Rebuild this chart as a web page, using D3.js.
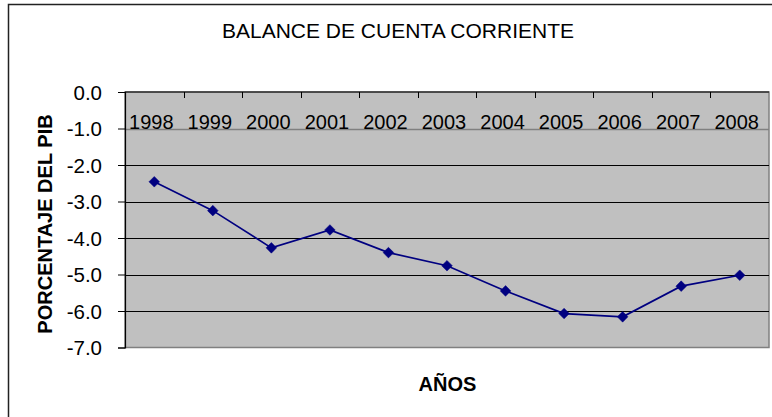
<!DOCTYPE html>
<html>
<head>
<meta charset="utf-8">
<script src="https://cdn.jsdelivr.net/npm/d3@7"></script>
<style>
  html, body { margin: 0; padding: 0; background: #fff; }
  svg { display: block; font-family: "Liberation Sans", Arial, sans-serif; }
</style>
</head>
<body>
<svg id="chart" width="772" height="417"></svg>
<script>
// Current account balance, % of GDP
const years = ["1998","1999","2000","2001","2002","2003","2004","2005","2006","2007","2008"];
const balance = [-2.46, -3.25, -4.27, -3.78, -4.40, -4.76, -5.45, -6.07, -6.16, -5.32, -5.02];
const yTicks = [0, -1, -2, -3, -4, -5, -6, -7];

const titleText = "BALANCE DE CUENTA CORRIENTE";
const yTitle = "PORCENTAJE DEL PIB";
const xTitle = "AÑOS";

const svg = d3.select("#chart");
const W = 772, H = 417;
const plot = { left: 125, right: 769, top: 92, bottom: 347.5 };
const FONT = "Liberation Sans, Arial, sans-serif";

// outer chart frame
svg.append("rect")
  .attr("x", 8.5).attr("y", 4.5)
  .attr("width", W + 10).attr("height", H + 10)
  .attr("fill", "#fff").attr("stroke", "#222").attr("stroke-width", 1.5);

const x = d3.scaleBand().domain(years).range([plot.left, plot.right]).padding(0);
const y = d3.scaleLinear().domain([-7, 0]).range([plot.bottom, plot.top]);

// plot area
svg.append("rect")
  .attr("x", plot.left).attr("y", plot.top)
  .attr("width", plot.right - plot.left).attr("height", plot.bottom - plot.top)
  .attr("fill", "#c0c0c0").attr("stroke", "#808080").attr("stroke-width", 1.5);

// horizontal gridlines
svg.append("g").selectAll("line")
  .data(yTicks.filter(d => d !== 0 && d !== -7))
  .join("line")
  .attr("x1", plot.left).attr("x2", plot.right)
  .attr("y1", d => Math.round(y(d)) + 0.5).attr("y2", d => Math.round(y(d)) + 0.5)
  .attr("stroke", d => d === -1 ? "#808080" : "#000")
  .attr("stroke-width", d => d === -1 ? 1.5 : 1);

// value axis (left)
const yAxis = d3.axisLeft(y).tickValues(yTicks).tickSize(7).tickPadding(16)
  .tickFormat(d => d3.format(".1f")(d).replace("−", "-"));
const gy = svg.append("g").attr("transform", `translate(${plot.left},0)`).call(yAxis);
gy.select(".domain").attr("stroke", "#000").attr("stroke-width", 1.2);
gy.selectAll(".tick line").attr("stroke", "#000");
gy.selectAll(".tick text")
  .attr("font-size", 20.5).attr("fill", "#000")
  .attr("font-family", FONT)
  .attr("dy", "0.36em");

// category axis at zero, tick marks between categories
const bounds = years.map(d => x(d)).concat([plot.right]);
svg.append("line")
  .attr("x1", plot.left).attr("x2", plot.right)
  .attr("y1", y(0)).attr("y2", y(0))
  .attr("stroke", "#000").attr("stroke-width", 1.2);
svg.append("g").selectAll("line")
  .data(bounds.slice(1, -1))
  .join("line")
  .attr("x1", d => Math.round(d) + 0.5).attr("x2", d => Math.round(d) + 0.5)
  .attr("y1", y(0)).attr("y2", y(0) + 6)
  .attr("stroke", "#000").attr("stroke-width", 1);

// category labels
svg.append("g").selectAll("text")
  .data(years)
  .join("text")
  .attr("x", d => x(d) + x.bandwidth() / 2 - 3)
  .attr("y", y(-1))
  .attr("text-anchor", "middle")
  .attr("font-size", 20).attr("fill", "#000")
  .text(d => d);

// series line and markers
const line = d3.line()
  .x((d, i) => x(years[i]) + x.bandwidth() / 2)
  .y(d => y(d));
svg.append("path")
  .datum(balance)
  .attr("d", line)
  .attr("fill", "none").attr("stroke", "#000080").attr("stroke-width", 1.7);

svg.append("g").selectAll("path")
  .data(balance)
  .join("path")
  .attr("transform", (d, i) => `translate(${x(years[i]) + x.bandwidth() / 2},${y(d)})`)
  .attr("d", d3.symbol().type(d3.symbolDiamond2).size(72))
  .attr("fill", "#000080").attr("stroke", "#000080").attr("stroke-width", 0.5);

// titles
svg.append("text")
  .attr("x", 398).attr("y", 38)
  .attr("text-anchor", "middle")
  .attr("font-size", 21).attr("fill", "#000")
  .text(titleText);

svg.append("text")
  .attr("transform", `translate(52,224) rotate(-90)`)
  .attr("text-anchor", "middle")
  .attr("font-size", 20).attr("font-weight", "bold").attr("fill", "#000")
  .text(yTitle);

svg.append("text")
  .attr("x", 447.5).attr("y", 391)
  .attr("text-anchor", "middle")
  .attr("font-size", 20).attr("font-weight", "bold").attr("fill", "#000")
  .text(xTitle);
</script>
</body>
</html>
